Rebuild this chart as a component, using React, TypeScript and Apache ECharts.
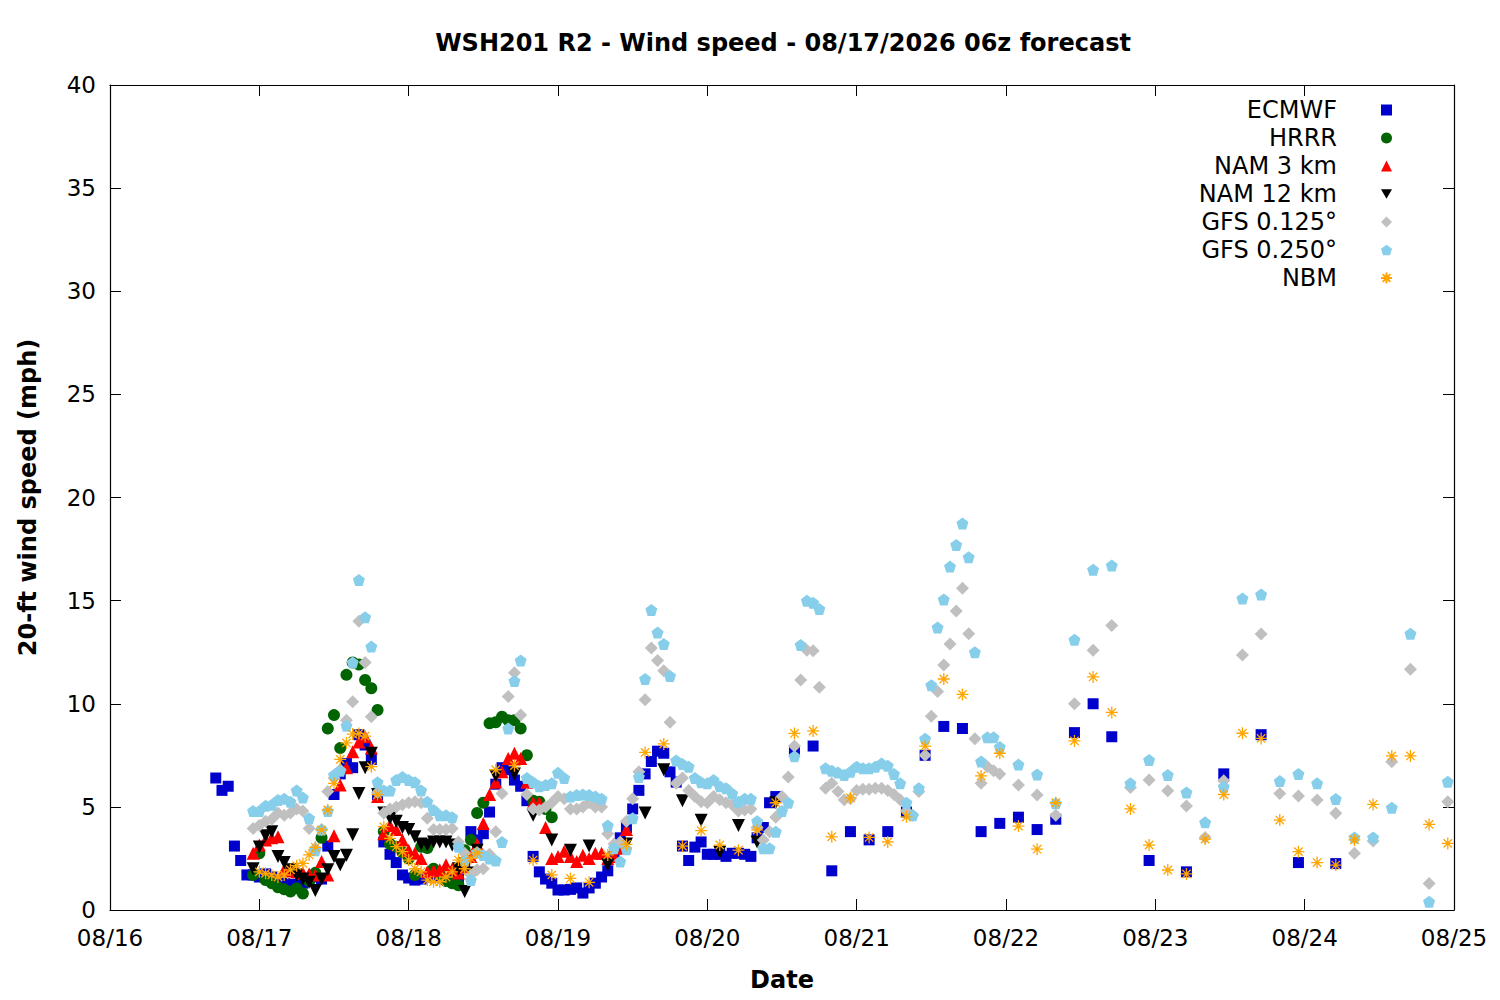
import { useEffect, useRef } from "react";
import * as echarts from "echarts";

// Hours are counted from 08/16 00:00. Hourly runs first, then 3- and 6-hourly steps.
const DAY_LABELS = ["08/16", "08/17", "08/18", "08/19", "08/20", "08/21", "08/22", "08/23", "08/24", "08/25"];

// ECMWF: hourly from h17, 3-hourly from h110, 6-hourly from h167
const ECMWF_1H = [
  6.4, 5.8, 6.0, 3.1, 2.4, 1.7, 1.7, 1.6, 1.75, 1.6,
  1.4, 1.3, 1.25, 1.2, 1.3, 1.45, 1.6, 1.5, 3.1, 5.6,
  6.6, 7.1, 6.9, 8.5, 8.0, 7.3, 5.6, 3.3, 2.7, 2.3,
  1.7, 1.55, 1.45, 1.5, 1.6, 1.7, 1.6, 1.5, 1.45, 1.5,
  2.3, 3.8, 3.4, 3.7, 4.75, 6.1, 6.9, 6.8, 6.3, 6.0,
  5.3, 2.6, 1.85, 1.5, 1.3, 0.97, 0.97, 1.0, 1.07, 0.82,
  1.07, 1.3, 1.6, 1.9, 2.6, 3.5, 4.0, 4.9, 5.8, 6.6,
  7.2, 7.7, 7.6, 6.7, 6.2, 3.1, 2.4, 3.05, 3.3, 2.7,
  2.7, 2.7, 2.6, 2.75, 2.75, 2.7, 2.6, 3.5, 4.0, 5.2,
  5.5,
];
const ECMWF_3H = [7.7, 7.95, 1.9, 3.8, 3.4, 3.8, 4.75, 7.5, 8.9, 8.8, 3.8, 4.2, 4.5, 3.9, 4.4, 8.6, 10.0, 8.4];
const ECMWF_6H = [2.4, 1.85, 6.6, 8.5, 2.3, 2.25];

// HRRR: hourly from h23
const HRRR_1H = [
  1.7, 2.75, 1.45, 1.3, 1.1, 1.0, 0.9, 1.05, 0.8, 1.4,
  1.8, 3.5, 8.8, 9.45, 7.85, 11.4, 12.0, 11.9, 11.15, 10.75,
  9.7, 3.8, 3.2, 3.07, 2.8, 2.5, 1.7, 3.07, 3.0, 2.0,
  1.7, 1.4, 1.3, 1.2, 2.9, 3.4, 4.7, 5.2, 9.05, 9.1,
  9.37, 9.2, 9.2, 8.8, 7.5, 5.3, 5.25, 4.9, 4.5,
];

// NAM 3 km: hourly from h23
const NAM3_1H = [
  2.75, 3.15, 3.4, 3.5, 3.55, 1.95, 1.9, 1.85, 1.8, 1.75,
  1.7, 2.35, 1.7, 3.6, 6.06, 6.9, 7.67, 8.15, 8.4, 7.85,
  5.5, 3.7, 4.1, 3.9, 3.4, 2.9, 2.75, 2.5, 1.85, 1.9,
  1.95, 2.2, 2.0, 1.8, 2.1, 2.6, 3.2, 4.2, 5.6, 6.2,
  6.7, 7.35, 7.6, 7.35, 6.2, 5.2, 5.2, 4.0, 2.5, 2.6,
  2.85, 2.6, 2.35, 2.65, 2.5, 2.75, 2.75, 2.5, 2.6, 3.0,
  3.9,
];

// NAM 12 km: hourly from h23, 3-hourly from h62
const NAM12_1H = [
  2.0, 3.05, 3.6, 3.8, 2.6, 2.3, 1.95, 1.7, 1.5, 1.35,
  0.95, 1.5, 1.95, 2.6, 2.2, 2.65, 3.65, 5.65, 6.9, 7.6,
  5.6, 4.7, 4.45, 4.3, 4.0, 3.9, 3.55, 3.2, 3.15, 3.3,
  3.3, 3.3, 3.15, 2.0, 0.9, 1.8, 2.9,
];
const NAM12_3H = [6.5, 6.6, 4.6, 3.4, 2.9, 3.1, 2.2, 3.2, 4.7, 6.8, 5.3, 4.35, 2.8, 4.1, 3.3, 5.2];

// GFS 0.125°: hourly from h23, 3-hourly from h146
const GFS125_1H = [
  3.95, 4.1, 4.3, 4.4, 4.7, 4.6, 4.7, 4.9, 4.8, 3.95,
  3.0, 3.9, 5.75, 6.4, 6.8, 9.2, 10.1, 14.0, 12.0, 9.37,
  5.7, 4.7, 4.9, 5.0, 5.1, 5.2, 5.25, 5.2, 4.45, 3.9,
  3.9, 3.9, 3.95, 3.3, 2.75, 1.7, 1.95, 2.0, 2.7, 3.8,
  5.65, 10.35, 11.5, 9.45, 5.6, 4.9, 4.85, 5.0, 5.2, 5.5,
  5.4, 4.9, 4.9, 5.0, 5.2, 5.0, 5.0, 3.7, 3.2, 3.3,
  4.3, 5.4, 6.7, 10.2, 12.7, 12.1, 11.6, 9.1, 6.15, 6.4,
  5.8, 5.5, 5.25, 5.2, 5.5, 5.35, 5.2, 5.1, 4.8, 4.85,
  4.9, 4.0, 3.4, 3.8, 4.5, 5.5, 6.45, 7.95, 11.15, 12.6,
  12.57, 10.8, 5.9, 6.15, 5.75, 5.35, 5.4, 5.8, 5.85, 5.85,
  5.9, 5.9, 5.8, 5.6, 5.35, 4.8, 4.6, 5.75, 7.5, 9.4,
  10.6, 11.88, 12.9, 14.5, 15.6, 13.4, 8.3, 6.15, 6.95, 6.75,
  6.6,
];
const GFS125_3H = [
  6.06, 5.58, 4.6, 10.0, 12.6, 13.8, 5.94, 6.3, 5.78, 5.04, 3.52, 6.27,
  12.36, 13.38, 5.65, 5.53, 5.33, 4.69, 2.75, 3.35, 7.19, 11.67, 1.29, 5.25,
];

// GFS 0.250°: hourly from h23, 3-hourly from h146
const GFS250_1H = [
  4.8, 4.8, 5.05, 5.1, 5.33, 5.4, 5.25, 5.8, 5.45, 4.45,
  2.9, 3.9, 4.8, 6.55, 6.75, 8.93, 12.0, 16.0, 14.2, 12.77,
  6.2, 5.8, 5.8, 6.3, 6.45, 6.3, 6.2, 5.8, 5.25, 4.85,
  4.6, 4.6, 4.5, 3.07, 2.4, 1.45, 2.8, 2.67, 2.5, 2.4,
  3.3, 8.8, 11.1, 12.1, 6.4, 6.2, 6.0, 6.06, 6.15, 6.65,
  6.4, 5.5, 5.58, 5.6, 5.58, 5.5, 5.4, 4.1, 3.0, 2.35,
  2.95, 4.45, 6.45, 11.2, 14.55, 13.45, 12.9, 11.35, 7.25, 7.08,
  6.95, 6.4, 6.2, 6.15, 6.3, 6.0, 5.9, 5.65, 5.25, 5.4,
  5.4, 4.3, 3.0, 3.0, 3.8, 4.8, 5.2, 7.45, 12.85, 15.0,
  14.9, 14.6, 6.87, 6.75, 6.67, 6.55, 6.7, 6.95, 6.87, 6.87,
  6.95, 7.1, 7.0, 6.6, 6.14, 5.2, 4.6, 5.9, 8.3, 10.9,
  13.7, 15.06, 16.65, 17.7, 18.74, 17.1, 12.5, 7.2, 8.37, 8.37,
  7.9,
];
const GFS250_3H = [
  7.05, 6.57, 5.17, 13.1, 16.5, 16.7, 6.14, 7.27, 6.55, 5.7, 4.25, 5.98,
  15.1, 15.3, 6.25, 6.6, 6.14, 5.38, 3.52, 3.52, 4.96, 13.4, 0.4, 6.22,
];

// NBM: hourly from h24, 3-hourly from h62
const NBM_1H = [
  1.85, 1.78, 1.7, 1.6, 1.7, 1.95, 2.15, 2.26, 2.67, 3.04,
  3.88, 4.85, 6.14, 7.3, 8.1, 8.53, 8.56, 8.43, 6.95, 5.6,
  4.04, 3.47, 3.07, 2.83, 2.42, 2.0, 1.85, 1.45, 1.37, 1.37,
  1.6, 1.85, 2.42, 2.0, 2.5, 2.77,
];
const NBM_3H = [
  6.8, 7.0, 2.42, 1.7, 1.53, 1.34, 2.67, 3.18, 7.64, 8.05,
  3.1, 3.85, 3.15, 2.9, 3.88, 5.2, 8.56, 8.68, 3.55, 5.44,
  3.52, 3.3, 4.52, 7.95, 11.2, 10.45, 6.5, 7.6, 4.07, 2.95,
  5.2, 8.2, 11.3, 9.58, 4.9, 3.15, 1.94, 1.75, 3.44, 5.6,
  8.57, 8.32, 4.36, 2.83, 2.3, 2.18, 3.4, 5.12, 7.47, 7.47,
  4.15, 3.23,
];

const seg = (start: number, step: number, values: number[]) =>
  values.map((v, i) => [start + i * step, v]);

const PENTAGON = "path://M50,0L100,36L81,95L19,95L0,36Z";
const TRIANGLE_DOWN = "path://M0,0L100,0L50,87Z";
const ASTERISK = "path://M0,50L100,50M50,0L50,100M15,15L85,85M15,85L85,15";

const FONT = "DejaVu Sans";

export default function App() {
  const ref = useRef<HTMLDivElement>(null);

  useEffect(() => {
    if (!ref.current) return;
    const chart = echarts.init(ref.current, undefined, { renderer: "svg" });

    const tick = () => ({ inside: true, length: 11, lineStyle: { color: "#000", width: 1 } });
    const line = () => ({ show: true, onZero: false, lineStyle: { color: "#000", width: 1.2 } });

    const filled = [
      { name: "ECMWF", data: [...seg(17, 1, ECMWF_1H), ...seg(110, 3, ECMWF_3H), ...seg(167, 6, ECMWF_6H)], symbol: "rect", symbolSize: 11, color: "#0000cd" },
      { name: "HRRR", data: seg(23, 1, HRRR_1H), symbol: "circle", symbolSize: 12, color: "#006400" },
      { name: "NAM 3 km", data: seg(23, 1, NAM3_1H), symbol: "triangle", symbolSize: 13, color: "#ff0000" },
      { name: "NAM 12 km", data: [...seg(23, 1, NAM12_1H), ...seg(62, 3, NAM12_3H)], symbol: TRIANGLE_DOWN, symbolSize: 13, color: "#000000" },
      { name: "GFS 0.125°", data: [...seg(23, 1, GFS125_1H), ...seg(146, 3, GFS125_3H)], symbol: "diamond", symbolSize: 13, color: "#c0c0c0" },
      { name: "GFS 0.250°", data: [...seg(23, 1, GFS250_1H), ...seg(146, 3, GFS250_3H)], symbol: PENTAGON, symbolSize: 12, color: "#87ceeb" },
    ].map((s) => ({ ...s, type: "scatter", itemStyle: { color: s.color, opacity: 1 } }));

    const series: any[] = [
      ...filled,
      {
        name: "NBM",
        type: "scatter",
        data: [...seg(24, 1, NBM_1H), ...seg(62, 3, NBM_3H)],
        symbol: ASTERISK,
        symbolSize: 12,
        color: "#ffa500",
        itemStyle: { color: "transparent", borderColor: "#ffa500", borderWidth: 1.3, opacity: 1 },
      },
    ];

    chart.setOption({
      animation: false,
      backgroundColor: "#fff",
      textStyle: { fontFamily: FONT, color: "#000" },
      title: {
        text: "WSH201 R2 - Wind speed - 08/17/2026 06z forecast",
        left: 783,
        top: 31,
        textAlign: "center",
        padding: 0,
        textStyle: { fontFamily: FONT, fontSize: 24, fontWeight: "bold", color: "#000" },
      },
      legend: {
        orient: "vertical",
        right: 107,
        top: 98,
        align: "right",
        itemWidth: 11,
        itemHeight: 11,
        itemGap: 4,
        padding: 0,
        formatter: (name: string) => `{t|${name}}{s| }`,
        textStyle: {
          fontFamily: FONT,
          fontSize: 24,
          lineHeight: 24,
          color: "#000",
          rich: { t: { fontFamily: FONT, fontSize: 24, lineHeight: 24, color: "#000" }, s: { width: 39 } },
        },
      },
      grid: { left: 110, right: 46, top: 85, bottom: 90, containLabel: false },
      xAxis: [
        {
          type: "value",
          min: 0,
          max: 216,
          interval: 24,
          position: "bottom",
          axisLine: line(),
          axisTick: tick(),
          splitLine: { show: false },
          axisLabel: {
            fontFamily: FONT,
            fontSize: 23,
            color: "#000",
            margin: 16,
            formatter: (v: number) => DAY_LABELS[Math.round(v / 24)] ?? "",
          },
          name: "Date",
          nameLocation: "middle",
          nameGap: 58,
          nameTextStyle: { fontFamily: FONT, fontSize: 24, fontWeight: "bold", color: "#000" },
        },
        {
          type: "value",
          min: 0,
          max: 216,
          interval: 24,
          position: "top",
          axisLine: line(),
          axisTick: tick(),
          axisLabel: { show: false },
          splitLine: { show: false },
        },
      ],
      yAxis: [
        {
          type: "value",
          min: 0,
          max: 40,
          interval: 5,
          position: "left",
          axisLine: line(),
          axisTick: tick(),
          splitLine: { show: false },
          axisLabel: { fontFamily: FONT, fontSize: 23, color: "#000", margin: 14 },
          name: "20-ft wind speed (mph)",
          nameLocation: "middle",
          nameGap: 70,
          nameTextStyle: { fontFamily: FONT, fontSize: 24, fontWeight: "bold", color: "#000" },
        },
        {
          type: "value",
          min: 0,
          max: 40,
          interval: 5,
          position: "right",
          axisLine: line(),
          axisTick: tick(),
          axisLabel: { show: false },
          splitLine: { show: false },
        },
      ],
      series,
    });

    return () => chart.dispose();
  }, []);

  return (
    <div
      ref={ref}
      style={{ position: "absolute", left: 0, top: 0, width: 1500, height: 1000, background: "#fff" }}
    />
  );
}
